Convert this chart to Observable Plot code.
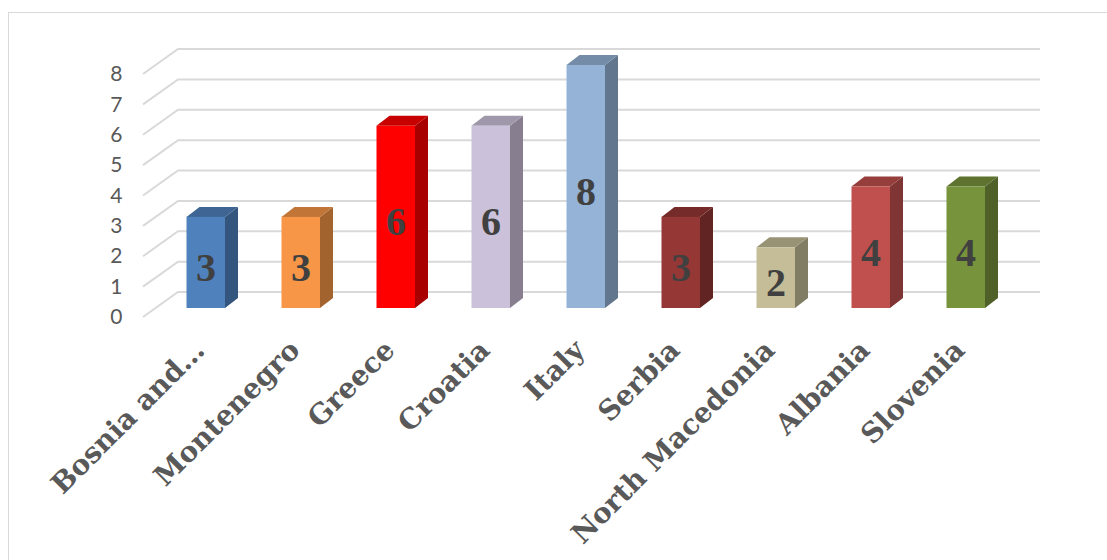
<!DOCTYPE html>
<html>
<head>
<meta charset="utf-8">
<script src="https://cdn.jsdelivr.net/npm/d3@7"></script>
<script src="https://cdn.jsdelivr.net/npm/@observablehq/plot@0.6"></script>
<style>
  html, body { margin: 0; padding: 0; background: #fff; }
  #chart { position: relative; width: 1107px; height: 560px; overflow: hidden; }
  #frame { position: absolute; left: 8px; top: 12px; width: 1120px; height: 600px; border: 1.5px solid #d9d9d9; box-sizing: border-box; }
  #chart svg { position: absolute; left: 0; top: 0; }
</style>
</head>
<body>
<div id="chart"><div id="frame"></div></div>
<script>
const countries = ["Bosnia and Herzegovina", "Montenegro", "Greece", "Croatia", "Italy", "Serbia", "North Macedonia", "Albania", "Slovenia"];
const tickLabels = ["Bosnia and…", "Montenegro", "Greece", "Croatia", "Italy", "Serbia", "North Macedonia", "Albania", "Slovenia"];
const counts = [3, 3, 6, 6, 8, 3, 2, 4, 4];
const colors = ["#4F81BD", "#F79646", "#FF0000", "#CCC1DA", "#95B3D7", "#953735", "#C4BD97", "#C0504D", "#77933C"];
const yTicks = [0, 1, 2, 3, 4, 5, 6, 7, 8];

const data = countries.map((c, i) => ({country: c, label: tickLabels[i], value: counts[i], color: colors[i]}));
const labelOf = new Map(data.map(d => [d.country, d.label]));

// 3D projection constants (pixels)
const wallDX = 35, wallDY = -25;      // full depth shift (front floor edge -> back wall)
const frontDY = -9;                   // bar front face depth shift
const sideDX = 13, sideDY = -10;      // bar depth
const barOffset = 39.5, barW = 38.5;  // bar front-left offset from band start, width

function shade(c, k) {
  const r = d3.rgb(c);
  return d3.rgb(r.r * k, r.g * k, r.b * k).formatHex();
}

const gridMark = Plot.ruleY(yTicks, {
  y: d => d,
  render(index, scales, values, dimensions) {
    const g = d3.create("svg:g");
    const x0 = dimensions.marginLeft;
    const x1 = dimensions.width - dimensions.marginRight;
    for (const i of index) {
      const y = values.y[i];
      g.append("path")
        .attr("d", `M${x0},${y}L${x0 + wallDX},${y + wallDY}L${x1 + wallDX},${y + wallDY}`)
        .attr("fill", "none")
        .attr("stroke", "#d9d9d9")
        .attr("stroke-width", 2);
    }
    return g.node();
  }
});

const barsMark = Plot.barY(data, {
  x: "country",
  y: "value",
  fill: "color",
  render(index, scales, values, dimensions) {
    const g = d3.create("svg:g");
    for (const i of index) {
      const d = data[i];
      const xl = scales.x(d.country) + barOffset;
      const xr = xl + barW;
      const yb = scales.y(0) + frontDY;
      const yt = scales.y(d.value) + frontDY;
      g.append("path")
        .attr("d", `M${xr},${yb}L${xr + sideDX},${yb + sideDY}L${xr + sideDX},${yt + sideDY}L${xr},${yt}Z`)
        .attr("fill", shade(d.color, 0.66));
      g.append("path")
        .attr("d", `M${xl},${yt}L${xl + sideDX},${yt + sideDY}L${xr + sideDX},${yt + sideDY}L${xr},${yt}Z`)
        .attr("fill", shade(d.color, 0.78));
      g.append("rect")
        .attr("x", xl).attr("y", yt)
        .attr("width", barW).attr("height", yb - yt)
        .attr("fill", d.color);
    }
    return g.node();
  }
});

const chart = Plot.plot({
  width: 1107,
  height: 560,
  marginLeft: 143,
  marginRight: 102,
  marginTop: 74,
  marginBottom: 243,
  style: {background: "transparent", overflow: "visible"},
  x: {domain: countries, padding: 0, axis: null},
  y: {domain: [0, 8], axis: null},
  marks: [
    gridMark,
    barsMark,
    Plot.axisY({
      ticks: yTicks,
      tickSize: 0,
      tickPadding: 21,
      fontSize: 21,
      fontFamily: "Lato, 'Liberation Sans', sans-serif",
      fill: "#595959",
      label: null
    }),
    Plot.text(data, {
      x: "country",
      y: d => d.value / 2,
      text: d => String(d.value),
      dx: 11,
      dy: -4,
      fontSize: 40,
      fontWeight: "bold",
      fontFamily: "'Liberation Serif', serif",
      fill: "#404040"
    }),
    Plot.axisX({
      tickFormat: d => labelOf.get(d),
      tickRotate: -45,
      tickSize: 0,
      tickPadding: 28,
      dx: 5,
      fontSize: 28,
      fontWeight: "bold",
      fontFamily: "'DejaVu Serif', serif",
      fill: "#595959",
      label: null
    })
  ]
});

document.getElementById("chart").appendChild(chart);
</script>
</body>
</html>
